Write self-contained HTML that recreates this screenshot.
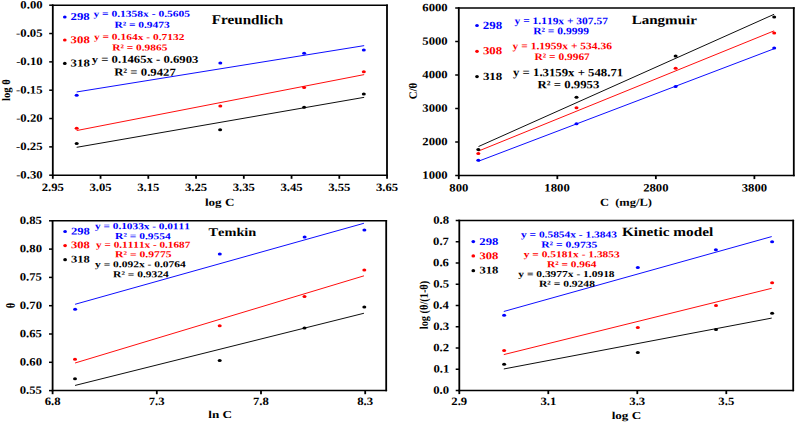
<!DOCTYPE html>
<html><head><meta charset="utf-8"><title>Adsorption isotherms</title>
<style>
html,body{margin:0;padding:0;background:#fff;}
body{width:796px;height:422px;overflow:hidden;}
svg{display:block;}
text{font-family:"Liberation Serif",serif;font-weight:bold;font-kerning:none;white-space:pre;}
</style></head><body>
<svg width="796" height="422" viewBox="0 0 796 422">
<rect x="0" y="0" width="796" height="422" fill="#fff"/>
<path d="M51.90,5.20H387.90M51.90,175.20H387.90" stroke="#000" stroke-width="1.5" fill="none"/>
<path d="M52.80,4.45V175.95M387.00,4.45V175.95" stroke="#000" stroke-width="1.8" fill="none"/>
<line x1="49.20" y1="5.20" x2="52.80" y2="5.20" stroke="#000000" stroke-width="1.5"/>
<line x1="49.20" y1="33.53" x2="52.80" y2="33.53" stroke="#000000" stroke-width="1.5"/>
<line x1="49.20" y1="61.87" x2="52.80" y2="61.87" stroke="#000000" stroke-width="1.5"/>
<line x1="49.20" y1="90.20" x2="52.80" y2="90.20" stroke="#000000" stroke-width="1.5"/>
<line x1="49.20" y1="118.53" x2="52.80" y2="118.53" stroke="#000000" stroke-width="1.5"/>
<line x1="49.20" y1="146.87" x2="52.80" y2="146.87" stroke="#000000" stroke-width="1.5"/>
<line x1="49.20" y1="175.20" x2="52.80" y2="175.20" stroke="#000000" stroke-width="1.5"/>
<line x1="52.80" y1="175.20" x2="52.80" y2="178.80" stroke="#000000" stroke-width="1.8"/>
<line x1="100.55" y1="175.20" x2="100.55" y2="178.80" stroke="#000000" stroke-width="1.8"/>
<line x1="148.30" y1="175.20" x2="148.30" y2="178.80" stroke="#000000" stroke-width="1.8"/>
<line x1="196.05" y1="175.20" x2="196.05" y2="178.80" stroke="#000000" stroke-width="1.8"/>
<line x1="243.80" y1="175.20" x2="243.80" y2="178.80" stroke="#000000" stroke-width="1.8"/>
<line x1="291.55" y1="175.20" x2="291.55" y2="178.80" stroke="#000000" stroke-width="1.8"/>
<line x1="339.30" y1="175.20" x2="339.30" y2="178.80" stroke="#000000" stroke-width="1.8"/>
<line x1="387.05" y1="175.20" x2="387.05" y2="178.80" stroke="#000000" stroke-width="1.8"/>
<text transform="translate(20.36,8.40) rotate(0.05) scale(1.1339,1)" font-size="11.20" fill="#000000">0.00</text>
<text transform="translate(16.11,36.73) rotate(0.05) scale(1.1339,1)" font-size="11.20" fill="#000000">-0.05</text>
<text transform="translate(16.13,65.07) rotate(0.05) scale(1.1339,1)" font-size="11.20" fill="#000000">-0.10</text>
<text transform="translate(16.11,93.40) rotate(0.05) scale(1.1339,1)" font-size="11.20" fill="#000000">-0.15</text>
<text transform="translate(16.13,121.73) rotate(0.05) scale(1.1339,1)" font-size="11.20" fill="#000000">-0.20</text>
<text transform="translate(16.11,150.07) rotate(0.05) scale(1.1339,1)" font-size="11.20" fill="#000000">-0.25</text>
<text transform="translate(16.13,178.40) rotate(0.05) scale(1.1339,1)" font-size="11.20" fill="#000000">-0.30</text>
<text transform="translate(41.65,190.90) rotate(0.05) scale(1.1339,1)" font-size="11.20" fill="#000000">2.95</text>
<text transform="translate(89.43,190.90) rotate(0.05) scale(1.1339,1)" font-size="11.20" fill="#000000">3.05</text>
<text transform="translate(137.18,190.90) rotate(0.05) scale(1.1339,1)" font-size="11.20" fill="#000000">3.15</text>
<text transform="translate(184.93,190.90) rotate(0.05) scale(1.1339,1)" font-size="11.20" fill="#000000">3.25</text>
<text transform="translate(232.68,190.90) rotate(0.05) scale(1.1339,1)" font-size="11.20" fill="#000000">3.35</text>
<text transform="translate(280.43,190.90) rotate(0.05) scale(1.1339,1)" font-size="11.20" fill="#000000">3.45</text>
<text transform="translate(328.18,190.90) rotate(0.05) scale(1.1339,1)" font-size="11.20" fill="#000000">3.55</text>
<text transform="translate(375.93,190.90) rotate(0.05) scale(1.1339,1)" font-size="11.20" fill="#000000">3.65</text>
<text transform="translate(204.93,205.80) rotate(0.05) scale(1.2358,1)" font-size="10.60" fill="#000000">log C</text>
<text transform="translate(10.00,90.15) rotate(-89.95) translate(-10.74,0) scale(0.9298,1)" font-size="11.40" fill="#000000">log θ</text>
<line x1="76.67" y1="91.96" x2="364.16" y2="45.63" stroke="#0000ff" stroke-width="0.95"/>
<line x1="76.67" y1="130.55" x2="364.16" y2="74.60" stroke="#ff0000" stroke-width="0.95"/>
<line x1="76.67" y1="147.32" x2="364.16" y2="97.34" stroke="#000000" stroke-width="0.95"/>
<ellipse cx="76.70" cy="95.20" rx="2.0" ry="1.5" fill="#0000ff"/>
<ellipse cx="220.30" cy="62.90" rx="2.0" ry="1.5" fill="#0000ff"/>
<ellipse cx="304.10" cy="53.30" rx="2.0" ry="1.5" fill="#0000ff"/>
<ellipse cx="363.80" cy="49.90" rx="2.0" ry="1.5" fill="#0000ff"/>
<ellipse cx="76.70" cy="128.30" rx="2.0" ry="1.5" fill="#ff0000"/>
<ellipse cx="220.30" cy="105.90" rx="2.0" ry="1.5" fill="#ff0000"/>
<ellipse cx="304.10" cy="87.60" rx="2.0" ry="1.5" fill="#ff0000"/>
<ellipse cx="363.80" cy="71.80" rx="2.0" ry="1.5" fill="#ff0000"/>
<ellipse cx="76.70" cy="143.50" rx="2.0" ry="1.5" fill="#000000"/>
<ellipse cx="220.10" cy="129.70" rx="2.0" ry="1.5" fill="#000000"/>
<ellipse cx="304.10" cy="107.20" rx="2.0" ry="1.5" fill="#000000"/>
<ellipse cx="363.80" cy="93.90" rx="2.0" ry="1.5" fill="#000000"/>
<ellipse cx="64.80" cy="17.00" rx="1.85" ry="1.6" fill="#0000ff"/>
<text transform="translate(70.56,19.90) rotate(0.05) scale(1.2075,1)" font-size="10.60" fill="#0000ff">298</text>
<ellipse cx="64.80" cy="40.00" rx="1.85" ry="1.6" fill="#ff0000"/>
<text transform="translate(70.62,43.30) rotate(0.05) scale(1.2075,1)" font-size="10.60" fill="#ff0000">308</text>
<ellipse cx="64.80" cy="63.40" rx="1.85" ry="1.6" fill="#000000"/>
<text transform="translate(70.62,66.50) rotate(0.05) scale(1.2075,1)" font-size="10.60" fill="#000000">318</text>
<text transform="translate(93.39,16.70) rotate(0.05) scale(1.2791,1)" font-size="9.00" fill="#0000ff">y = 0.1358x - 0.5605</text>
<text transform="translate(114.40,27.80) rotate(0.05) scale(1.2710,1)" font-size="9.00" fill="#0000ff">R² = 0.9473</text>
<text transform="translate(93.89,39.85) rotate(0.05) scale(1.2739,1)" font-size="9.00" fill="#ff0000">y = 0.164x - 0.7132</text>
<text transform="translate(112.21,50.50) rotate(0.05) scale(1.2670,1)" font-size="9.00" fill="#ff0000">R² = 0.9865</text>
<text transform="translate(91.68,62.80) rotate(0.05) scale(1.1997,1)" font-size="10.60" fill="#000000">y = 0.1465x - 0.6903</text>
<text transform="translate(114.18,75.60) rotate(0.05) scale(1.2008,1)" font-size="10.60" fill="#000000">R² = 0.9427</text>
<text transform="translate(211.64,24.10) rotate(0.05) scale(1.1213,1)" font-size="13.50" fill="#000000">Freundlich</text>
<path d="M457.90,8.00H794.70M457.90,175.50H794.70" stroke="#000" stroke-width="1.5" fill="none"/>
<path d="M458.80,7.25V176.25M793.80,7.25V176.25" stroke="#000" stroke-width="1.8" fill="none"/>
<line x1="455.20" y1="8.00" x2="458.80" y2="8.00" stroke="#000000" stroke-width="1.5"/>
<line x1="455.20" y1="41.50" x2="458.80" y2="41.50" stroke="#000000" stroke-width="1.5"/>
<line x1="455.20" y1="75.00" x2="458.80" y2="75.00" stroke="#000000" stroke-width="1.5"/>
<line x1="455.20" y1="108.50" x2="458.80" y2="108.50" stroke="#000000" stroke-width="1.5"/>
<line x1="455.20" y1="142.00" x2="458.80" y2="142.00" stroke="#000000" stroke-width="1.5"/>
<line x1="455.20" y1="175.50" x2="458.80" y2="175.50" stroke="#000000" stroke-width="1.5"/>
<line x1="458.80" y1="175.50" x2="458.80" y2="179.10" stroke="#000000" stroke-width="1.8"/>
<line x1="557.33" y1="175.50" x2="557.33" y2="179.10" stroke="#000000" stroke-width="1.8"/>
<line x1="655.86" y1="175.50" x2="655.86" y2="179.10" stroke="#000000" stroke-width="1.8"/>
<line x1="754.39" y1="175.50" x2="754.39" y2="179.10" stroke="#000000" stroke-width="1.8"/>
<text transform="translate(422.28,11.20) rotate(0.05) scale(1.1339,1)" font-size="11.20" fill="#000000">6000</text>
<text transform="translate(422.28,44.70) rotate(0.05) scale(1.1339,1)" font-size="11.20" fill="#000000">5000</text>
<text transform="translate(422.28,78.20) rotate(0.05) scale(1.1339,1)" font-size="11.20" fill="#000000">4000</text>
<text transform="translate(422.28,111.70) rotate(0.05) scale(1.1339,1)" font-size="11.20" fill="#000000">3000</text>
<text transform="translate(422.28,145.20) rotate(0.05) scale(1.1339,1)" font-size="11.20" fill="#000000">2000</text>
<text transform="translate(422.28,178.70) rotate(0.05) scale(1.1339,1)" font-size="11.20" fill="#000000">1000</text>
<text transform="translate(449.31,191.50) rotate(0.05) scale(1.1339,1)" font-size="11.20" fill="#000000">800</text>
<text transform="translate(544.36,191.50) rotate(0.05) scale(1.1339,1)" font-size="11.20" fill="#000000">1800</text>
<text transform="translate(643.14,191.50) rotate(0.05) scale(1.1339,1)" font-size="11.20" fill="#000000">2800</text>
<text transform="translate(741.69,191.50) rotate(0.05) scale(1.1339,1)" font-size="11.20" fill="#000000">3800</text>
<text transform="translate(599.93,205.80) rotate(0.05) scale(1.1792,1)" font-size="10.60" fill="#000000">C  (mg/L)</text>
<text transform="translate(416.80,90.95) rotate(-89.95) translate(-8.33,0) scale(0.9732,1)" font-size="11.20" fill="#000000">C/θ</text>
<line x1="478.51" y1="161.21" x2="774.10" y2="48.75" stroke="#0000ff" stroke-width="0.95"/>
<line x1="478.51" y1="151.04" x2="774.10" y2="30.85" stroke="#ff0000" stroke-width="0.95"/>
<line x1="478.51" y1="146.54" x2="774.10" y2="14.29" stroke="#000000" stroke-width="0.95"/>
<ellipse cx="478.30" cy="160.30" rx="2.0" ry="1.5" fill="#0000ff"/>
<ellipse cx="576.50" cy="123.80" rx="2.0" ry="1.5" fill="#0000ff"/>
<ellipse cx="675.60" cy="86.50" rx="2.0" ry="1.5" fill="#0000ff"/>
<ellipse cx="774.20" cy="48.10" rx="2.0" ry="1.5" fill="#0000ff"/>
<ellipse cx="478.30" cy="153.50" rx="2.0" ry="1.5" fill="#ff0000"/>
<ellipse cx="576.50" cy="107.80" rx="2.0" ry="1.5" fill="#ff0000"/>
<ellipse cx="675.60" cy="68.20" rx="2.0" ry="1.5" fill="#ff0000"/>
<ellipse cx="774.20" cy="32.90" rx="2.0" ry="1.5" fill="#ff0000"/>
<ellipse cx="478.30" cy="149.60" rx="2.0" ry="1.5" fill="#000000"/>
<ellipse cx="576.50" cy="97.20" rx="2.0" ry="1.5" fill="#000000"/>
<ellipse cx="675.60" cy="56.10" rx="2.0" ry="1.5" fill="#000000"/>
<ellipse cx="774.20" cy="16.90" rx="2.0" ry="1.5" fill="#000000"/>
<ellipse cx="477.00" cy="25.50" rx="1.85" ry="1.6" fill="#0000ff"/>
<text transform="translate(482.86,29.10) rotate(0.05) scale(1.1727,1)" font-size="11.00" fill="#0000ff">298</text>
<ellipse cx="477.00" cy="51.30" rx="1.85" ry="1.6" fill="#ff0000"/>
<text transform="translate(482.91,54.20) rotate(0.05) scale(1.1727,1)" font-size="11.00" fill="#ff0000">308</text>
<ellipse cx="477.00" cy="76.60" rx="1.85" ry="1.6" fill="#000000"/>
<text transform="translate(482.91,80.00) rotate(0.05) scale(1.1727,1)" font-size="11.00" fill="#000000">318</text>
<text transform="translate(514.59,24.10) rotate(0.05) scale(1.1474,1)" font-size="10.00" fill="#0000ff">y = 1.119x + 307.57</text>
<text transform="translate(533.20,34.20) rotate(0.05) scale(1.1527,1)" font-size="10.00" fill="#0000ff">R² = 0.9999</text>
<text transform="translate(512.59,49.20) rotate(0.05) scale(1.1522,1)" font-size="10.00" fill="#ff0000">y = 1.1959x + 534.36</text>
<text transform="translate(534.60,59.90) rotate(0.05) scale(1.1416,1)" font-size="10.00" fill="#ff0000">R² = 0.9967</text>
<text transform="translate(512.98,76.10) rotate(0.05) scale(1.1397,1)" font-size="11.20" fill="#000000">y = 1.3159x + 548.71</text>
<text transform="translate(537.58,88.20) rotate(0.05) scale(1.1388,1)" font-size="11.20" fill="#000000">R² = 0.9953</text>
<text transform="translate(631.64,24.10) rotate(0.05) scale(1.1954,1)" font-size="12.60" fill="#000000">Langmuir</text>
<path d="M51.70,220.80H387.10M51.70,390.60H387.10" stroke="#000" stroke-width="1.5" fill="none"/>
<path d="M52.60,220.05V391.35M386.20,220.05V391.35" stroke="#000" stroke-width="1.8" fill="none"/>
<line x1="49.00" y1="220.80" x2="52.60" y2="220.80" stroke="#000000" stroke-width="1.5"/>
<line x1="49.00" y1="249.10" x2="52.60" y2="249.10" stroke="#000000" stroke-width="1.5"/>
<line x1="49.00" y1="277.40" x2="52.60" y2="277.40" stroke="#000000" stroke-width="1.5"/>
<line x1="49.00" y1="305.70" x2="52.60" y2="305.70" stroke="#000000" stroke-width="1.5"/>
<line x1="49.00" y1="334.00" x2="52.60" y2="334.00" stroke="#000000" stroke-width="1.5"/>
<line x1="49.00" y1="362.30" x2="52.60" y2="362.30" stroke="#000000" stroke-width="1.5"/>
<line x1="49.00" y1="390.60" x2="52.60" y2="390.60" stroke="#000000" stroke-width="1.5"/>
<line x1="52.60" y1="390.60" x2="52.60" y2="394.20" stroke="#000000" stroke-width="1.8"/>
<line x1="156.80" y1="390.60" x2="156.80" y2="394.20" stroke="#000000" stroke-width="1.8"/>
<line x1="261.00" y1="390.60" x2="261.00" y2="394.20" stroke="#000000" stroke-width="1.8"/>
<line x1="365.20" y1="390.60" x2="365.20" y2="394.20" stroke="#000000" stroke-width="1.8"/>
<text transform="translate(19.74,224.00) rotate(0.05) scale(1.1339,1)" font-size="11.20" fill="#000000">0.85</text>
<text transform="translate(19.76,252.30) rotate(0.05) scale(1.1339,1)" font-size="11.20" fill="#000000">0.80</text>
<text transform="translate(19.74,280.60) rotate(0.05) scale(1.1339,1)" font-size="11.20" fill="#000000">0.75</text>
<text transform="translate(19.76,308.90) rotate(0.05) scale(1.1339,1)" font-size="11.20" fill="#000000">0.70</text>
<text transform="translate(19.74,337.20) rotate(0.05) scale(1.1339,1)" font-size="11.20" fill="#000000">0.65</text>
<text transform="translate(19.76,365.50) rotate(0.05) scale(1.1339,1)" font-size="11.20" fill="#000000">0.60</text>
<text transform="translate(19.74,393.80) rotate(0.05) scale(1.1339,1)" font-size="11.20" fill="#000000">0.55</text>
<text transform="translate(44.66,405.00) rotate(0.05) scale(1.1339,1)" font-size="11.20" fill="#000000">6.8</text>
<text transform="translate(148.72,405.00) rotate(0.05) scale(1.1339,1)" font-size="11.20" fill="#000000">7.3</text>
<text transform="translate(252.91,405.00) rotate(0.05) scale(1.1339,1)" font-size="11.20" fill="#000000">7.8</text>
<text transform="translate(357.27,405.00) rotate(0.05) scale(1.1339,1)" font-size="11.20" fill="#000000">8.3</text>
<text transform="translate(208.34,418.10) rotate(0.05) scale(1.2358,1)" font-size="10.60" fill="#000000">ln C</text>
<text transform="translate(14.70,305.45) rotate(-89.95) translate(-2.71,0) scale(0.8387,1)" font-size="12.40" fill="#000000">θ</text>
<line x1="75.06" y1="304.30" x2="363.96" y2="223.25" stroke="#0000ff" stroke-width="0.95"/>
<line x1="75.06" y1="363.01" x2="363.96" y2="275.83" stroke="#ff0000" stroke-width="0.95"/>
<line x1="75.06" y1="385.44" x2="363.96" y2="313.25" stroke="#000000" stroke-width="0.95"/>
<ellipse cx="75.10" cy="309.20" rx="2.0" ry="1.5" fill="#0000ff"/>
<ellipse cx="219.80" cy="254.00" rx="2.0" ry="1.5" fill="#0000ff"/>
<ellipse cx="304.60" cy="236.90" rx="2.0" ry="1.5" fill="#0000ff"/>
<ellipse cx="364.40" cy="229.90" rx="2.0" ry="1.5" fill="#0000ff"/>
<ellipse cx="75.00" cy="359.20" rx="2.0" ry="1.5" fill="#ff0000"/>
<ellipse cx="219.70" cy="325.70" rx="2.0" ry="1.5" fill="#ff0000"/>
<ellipse cx="304.50" cy="296.60" rx="2.0" ry="1.5" fill="#ff0000"/>
<ellipse cx="364.30" cy="270.10" rx="2.0" ry="1.5" fill="#ff0000"/>
<ellipse cx="75.00" cy="378.80" rx="2.0" ry="1.5" fill="#000000"/>
<ellipse cx="219.70" cy="360.60" rx="2.0" ry="1.5" fill="#000000"/>
<ellipse cx="304.50" cy="328.10" rx="2.0" ry="1.5" fill="#000000"/>
<ellipse cx="364.30" cy="307.00" rx="2.0" ry="1.5" fill="#000000"/>
<ellipse cx="65.10" cy="231.50" rx="1.85" ry="1.6" fill="#0000ff"/>
<text transform="translate(70.97,234.50) rotate(0.05) scale(1.2353,1)" font-size="10.20" fill="#0000ff">298</text>
<ellipse cx="65.10" cy="245.60" rx="1.85" ry="1.6" fill="#ff0000"/>
<text transform="translate(71.03,248.20) rotate(0.05) scale(1.2353,1)" font-size="10.20" fill="#ff0000">308</text>
<ellipse cx="65.10" cy="259.70" rx="1.85" ry="1.6" fill="#000000"/>
<text transform="translate(71.03,262.60) rotate(0.05) scale(1.2353,1)" font-size="10.20" fill="#000000">318</text>
<text transform="translate(95.09,229.10) rotate(0.05) scale(1.2262,1)" font-size="9.20" fill="#0000ff">y = 0.1033x - 0.0111</text>
<text transform="translate(115.10,239.10) rotate(0.05) scale(1.2507,1)" font-size="9.20" fill="#0000ff">R² = 0.9554</text>
<text transform="translate(96.09,247.70) rotate(0.05) scale(1.2183,1)" font-size="9.20" fill="#ff0000">y = 0.1111x - 0.1687</text>
<text transform="translate(115.10,257.20) rotate(0.05) scale(1.2690,1)" font-size="9.20" fill="#ff0000">R² = 0.9775</text>
<text transform="translate(95.09,267.20) rotate(0.05) scale(1.2492,1)" font-size="9.20" fill="#000000">y = 0.092x - 0.0764</text>
<text transform="translate(113.10,277.30) rotate(0.05) scale(1.2507,1)" font-size="9.20" fill="#000000">R² = 0.9324</text>
<text transform="translate(208.58,235.90) rotate(0.05) scale(1.2135,1)" font-size="11.80" fill="#000000">Temkin</text>
<path d="M458.40,220.50H794.10M458.40,390.50H794.10" stroke="#000" stroke-width="1.5" fill="none"/>
<path d="M459.30,219.75V391.25M793.20,219.75V391.25" stroke="#000" stroke-width="1.8" fill="none"/>
<line x1="455.70" y1="220.50" x2="459.30" y2="220.50" stroke="#000000" stroke-width="1.5"/>
<line x1="455.70" y1="241.75" x2="459.30" y2="241.75" stroke="#000000" stroke-width="1.5"/>
<line x1="455.70" y1="263.00" x2="459.30" y2="263.00" stroke="#000000" stroke-width="1.5"/>
<line x1="455.70" y1="284.25" x2="459.30" y2="284.25" stroke="#000000" stroke-width="1.5"/>
<line x1="455.70" y1="305.50" x2="459.30" y2="305.50" stroke="#000000" stroke-width="1.5"/>
<line x1="455.70" y1="326.75" x2="459.30" y2="326.75" stroke="#000000" stroke-width="1.5"/>
<line x1="455.70" y1="348.00" x2="459.30" y2="348.00" stroke="#000000" stroke-width="1.5"/>
<line x1="455.70" y1="369.25" x2="459.30" y2="369.25" stroke="#000000" stroke-width="1.5"/>
<line x1="455.70" y1="390.50" x2="459.30" y2="390.50" stroke="#000000" stroke-width="1.5"/>
<line x1="459.30" y1="390.50" x2="459.30" y2="394.10" stroke="#000000" stroke-width="1.8"/>
<line x1="548.30" y1="390.50" x2="548.30" y2="394.10" stroke="#000000" stroke-width="1.8"/>
<line x1="637.30" y1="390.50" x2="637.30" y2="394.10" stroke="#000000" stroke-width="1.8"/>
<line x1="726.30" y1="390.50" x2="726.30" y2="394.10" stroke="#000000" stroke-width="1.8"/>
<text transform="translate(433.15,223.70) rotate(0.05) scale(1.1339,1)" font-size="11.20" fill="#000000">0.8</text>
<text transform="translate(433.04,244.95) rotate(0.05) scale(1.1339,1)" font-size="11.20" fill="#000000">0.7</text>
<text transform="translate(433.10,266.20) rotate(0.05) scale(1.1339,1)" font-size="11.20" fill="#000000">0.6</text>
<text transform="translate(433.19,287.45) rotate(0.05) scale(1.1339,1)" font-size="11.20" fill="#000000">0.5</text>
<text transform="translate(432.96,308.70) rotate(0.05) scale(1.1339,1)" font-size="11.20" fill="#000000">0.4</text>
<text transform="translate(433.16,329.95) rotate(0.05) scale(1.1339,1)" font-size="11.20" fill="#000000">0.3</text>
<text transform="translate(433.27,351.20) rotate(0.05) scale(1.1339,1)" font-size="11.20" fill="#000000">0.2</text>
<text transform="translate(433.38,372.45) rotate(0.05) scale(1.1339,1)" font-size="11.20" fill="#000000">0.1</text>
<text transform="translate(433.21,393.70) rotate(0.05) scale(1.1339,1)" font-size="11.20" fill="#000000">0.0</text>
<text transform="translate(451.33,405.10) rotate(0.05) scale(1.1339,1)" font-size="11.20" fill="#000000">2.9</text>
<text transform="translate(540.45,405.10) rotate(0.05) scale(1.1339,1)" font-size="11.20" fill="#000000">3.1</text>
<text transform="translate(629.34,405.10) rotate(0.05) scale(1.1339,1)" font-size="11.20" fill="#000000">3.3</text>
<text transform="translate(718.36,405.10) rotate(0.05) scale(1.1339,1)" font-size="11.20" fill="#000000">3.5</text>
<text transform="translate(611.63,418.90) rotate(0.05) scale(1.2358,1)" font-size="10.60" fill="#000000">log C</text>
<text transform="translate(427.80,305.10) rotate(-89.95) translate(-24.10,0) scale(0.8922,1)" font-size="11.60" fill="#000000">log (θ/(1-θ)</text>
<line x1="503.80" y1="311.47" x2="771.72" y2="236.58" stroke="#0000ff" stroke-width="0.95"/>
<line x1="503.80" y1="354.59" x2="771.72" y2="288.30" stroke="#ff0000" stroke-width="0.95"/>
<line x1="503.80" y1="368.97" x2="771.72" y2="318.09" stroke="#000000" stroke-width="0.95"/>
<ellipse cx="504.10" cy="315.20" rx="2.0" ry="1.5" fill="#0000ff"/>
<ellipse cx="637.80" cy="267.60" rx="2.0" ry="1.5" fill="#0000ff"/>
<ellipse cx="715.90" cy="249.70" rx="2.0" ry="1.5" fill="#0000ff"/>
<ellipse cx="772.10" cy="241.70" rx="2.0" ry="1.5" fill="#0000ff"/>
<ellipse cx="504.10" cy="350.60" rx="2.0" ry="1.5" fill="#ff0000"/>
<ellipse cx="637.80" cy="327.50" rx="2.0" ry="1.5" fill="#ff0000"/>
<ellipse cx="716.00" cy="305.60" rx="2.0" ry="1.5" fill="#ff0000"/>
<ellipse cx="772.10" cy="282.70" rx="2.0" ry="1.5" fill="#ff0000"/>
<ellipse cx="504.10" cy="364.20" rx="2.0" ry="1.5" fill="#000000"/>
<ellipse cx="637.80" cy="352.40" rx="2.0" ry="1.5" fill="#000000"/>
<ellipse cx="716.00" cy="329.60" rx="2.0" ry="1.5" fill="#000000"/>
<ellipse cx="772.10" cy="313.30" rx="2.0" ry="1.5" fill="#000000"/>
<ellipse cx="473.30" cy="241.60" rx="1.85" ry="1.6" fill="#0000ff"/>
<text transform="translate(479.37,245.10) rotate(0.05) scale(1.2212,1)" font-size="10.40" fill="#0000ff">298</text>
<ellipse cx="473.30" cy="255.90" rx="1.85" ry="1.6" fill="#ff0000"/>
<text transform="translate(479.42,259.30) rotate(0.05) scale(1.2212,1)" font-size="10.40" fill="#ff0000">308</text>
<ellipse cx="473.30" cy="270.70" rx="1.85" ry="1.6" fill="#000000"/>
<text transform="translate(479.42,273.60) rotate(0.05) scale(1.2212,1)" font-size="10.40" fill="#000000">318</text>
<text transform="translate(520.99,237.40) rotate(0.05) scale(1.2555,1)" font-size="9.10" fill="#0000ff">y = 0.5854x - 1.3843</text>
<text transform="translate(541.20,247.60) rotate(0.05) scale(1.2738,1)" font-size="9.10" fill="#0000ff">R² = 0.9735</text>
<text transform="translate(523.69,257.30) rotate(0.05) scale(1.2581,1)" font-size="9.10" fill="#ff0000">y = 0.5181x - 1.3853</text>
<text transform="translate(546.91,267.30) rotate(0.05) scale(1.2530,1)" font-size="9.10" fill="#ff0000">R² = 0.964</text>
<text transform="translate(518.29,277.00) rotate(0.05) scale(1.2606,1)" font-size="9.10" fill="#000000">y = 0.3977x - 1.0918</text>
<text transform="translate(539.00,286.80) rotate(0.05) scale(1.2706,1)" font-size="9.10" fill="#000000">R² = 0.9248</text>
<text transform="translate(621.94,235.90) rotate(0.05) scale(1.2138,1)" font-size="12.60" fill="#000000">Kinetic model</text>
</svg>
</body></html>
